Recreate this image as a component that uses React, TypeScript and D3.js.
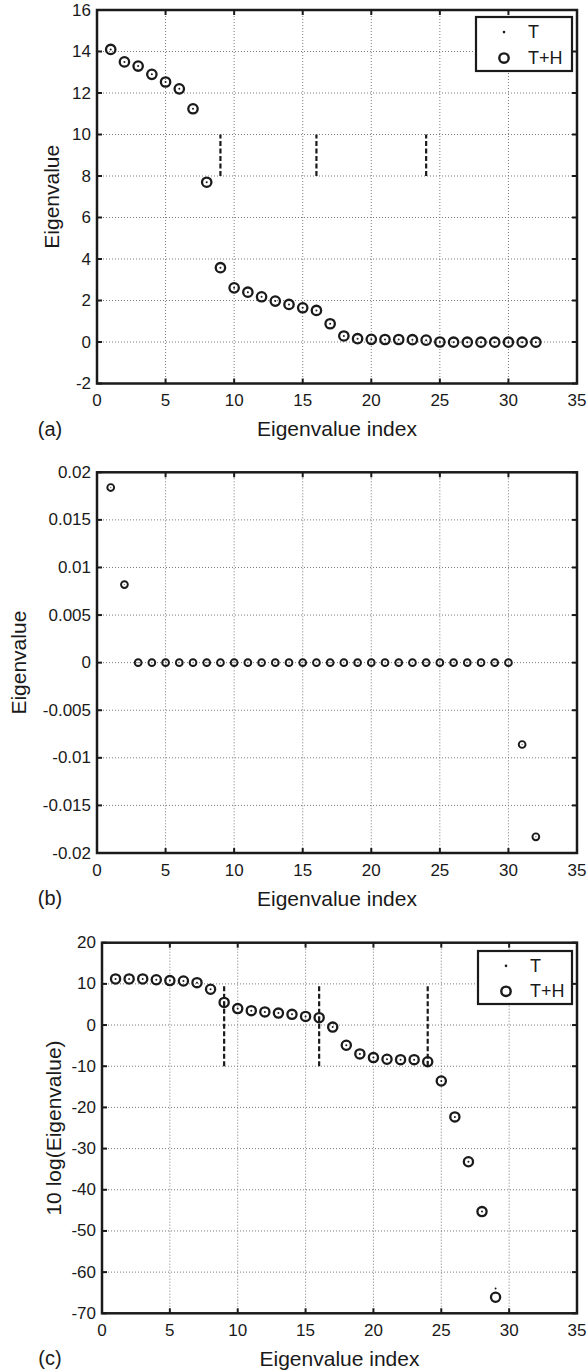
import React from 'react';
import * as d3 from 'd3';

// ---------- data ----------
const indexA = [1,2,3,4,5,6,7,8,9,10,11,12,13,14,15,16,17,18,19,20,21,22,23,24,25,26,27,28,29,30,31,32];
const eigA_TH = [14.1,13.5,13.3,12.9,12.53,12.2,11.24,7.7,3.58,2.61,2.4,2.18,1.97,1.81,1.65,1.52,0.88,0.29,0.16,0.13,0.12,0.12,0.11,0.09,0.0,-0.01,-0.01,-0.01,-0.01,-0.01,-0.01,-0.01];
const eigA_T = [14.1,13.5,13.3,12.9,12.53,12.2,11.24,7.7,3.58,2.61,2.4,2.18,1.97,1.81,1.65,1.52,0.88,0.29,0.16,0.13,0.12,0.12,0.11,0.09,0.0,-0.01,-0.01,-0.01,-0.01,-0.01,-0.01,-0.01];

const indexB = [1,2,3,4,5,6,7,8,9,10,11,12,13,14,15,16,17,18,19,20,21,22,23,24,25,26,27,28,29,30,31,32];
const eigB = [0.0184,0.0082,0,0,0,0,0,0,0,0,0,0,0,0,0,0,0,0,0,0,0,0,0,0,0,0,0,0,0,0,-0.0086,-0.0183];

const indexC = [1,2,3,4,5,6,7,8,9,10,11,12,13,14,15,16,17,18,19,20,21,22,23,24,25,26,27,28,29];
const logC_TH = [11.2,11.2,11.2,11.0,10.8,10.7,10.3,8.7,5.5,4.0,3.5,3.2,2.9,2.6,2.1,1.8,-0.5,-4.9,-7.0,-7.9,-8.3,-8.4,-8.4,-8.9,-13.6,-22.3,-33.2,-45.3,-66.1];
const logC_T = [11.2,11.2,11.2,11.0,10.8,10.7,10.3,8.7,5.5,4.0,3.5,3.2,2.9,2.6,2.1,1.8,-0.5,-4.9,-7.0,-7.9,-8.3,-8.4,-8.4,-8.9,-13.6,-22.3,-33.2,-45.3,-64.0];

const splitIndices = [9, 16, 24];
const splitSpanA = [8, 10];
const splitSpanC = [-10, 10];

const xTicks = [0,5,10,15,20,25,30,35];
const yTicksA = [-2,0,2,4,6,8,10,12,14,16];
const yTicksB = [-0.02,-0.015,-0.01,-0.005,0,0.005,0.01,0.015,0.02];
const yTickLabelsB = ['-0.02','-0.015','-0.01','-0.005','0','0.005','0.01','0.015','0.02'];
const yTicksC = [-70,-60,-50,-40,-30,-20,-10,0,10,20];

const legendLabels = ['T', 'T+H'];
const xLabel = 'Eigenvalue index';

const FONT = '"Liberation Sans", Arial, Helvetica, sans-serif';
const INK = '#1a1a1a';
const TICK_FS = 17;
const LABEL_FS = 21;

type PanelProps = {
  left: number; right: number; top: number; bottom: number;
  yDomain: [number, number];
  yTicks: number[]; yTickLabels?: string[];
  yLabel: string; yLabelX: number;
  letter: string;
  children: (x: d3.ScaleLinear<number, number>, y: d3.ScaleLinear<number, number>) => React.ReactNode;
};

function Panel(p: PanelProps) {
  const x = d3.scaleLinear().domain([0, 35]).range([p.left, p.right]);
  const y = d3.scaleLinear().domain(p.yDomain).range([p.bottom, p.top]);
  const tl = 5;
  return (
    <g>
      {xTicks.slice(1, -1).map((t) => (
        <line key={'gx' + t} x1={x(t)} x2={x(t)} y1={p.top} y2={p.bottom}
          stroke="#7a7a7a" strokeWidth={1} strokeDasharray="1,2" />
      ))}
      {p.yTicks.slice(1, -1).map((t) => (
        <line key={'gy' + t} x1={p.left} x2={p.right} y1={y(t)} y2={y(t)}
          stroke="#7a7a7a" strokeWidth={1} strokeDasharray="1,2" />
      ))}
      {xTicks.map((t) => (
        <g key={'tx' + t}>
          <line x1={x(t)} x2={x(t)} y1={p.bottom} y2={p.bottom - tl} stroke={INK} strokeWidth={2} />
          <line x1={x(t)} x2={x(t)} y1={p.top} y2={p.top + tl} stroke={INK} strokeWidth={2} />
          <text x={x(t)} y={p.bottom + 17} textAnchor="middle" dominantBaseline="central"
            fontFamily={FONT} fontSize={TICK_FS} fill={INK}>{t}</text>
        </g>
      ))}
      {p.yTicks.map((t, i) => (
        <g key={'ty' + t}>
          <line x1={p.left} x2={p.left + tl} y1={y(t)} y2={y(t)} stroke={INK} strokeWidth={2} />
          <line x1={p.right} x2={p.right - tl} y1={y(t)} y2={y(t)} stroke={INK} strokeWidth={2} />
          <text x={p.left - 6} y={y(t)} textAnchor="end" dominantBaseline="central"
            fontFamily={FONT} fontSize={TICK_FS} fill={INK}>{p.yTickLabels ? p.yTickLabels[i] : t}</text>
        </g>
      ))}
      {p.children(x, y)}
      <rect x={p.left} y={p.top} width={p.right - p.left} height={p.bottom - p.top}
        fill="none" stroke={INK} strokeWidth={2.5} />
      <text x={(p.left + p.right) / 2} y={p.bottom + 45} textAnchor="middle" dominantBaseline="central"
        fontFamily={FONT} fontSize={LABEL_FS} fill={INK}>{xLabel}</text>
      <text x={50} y={p.bottom + 45} textAnchor="middle" dominantBaseline="central"
        fontFamily={FONT} fontSize={20} fill={INK}>{p.letter}</text>
      <text transform={`translate(${p.yLabelX},${(p.top + p.bottom) / 2}) rotate(-90)`} textAnchor="middle"
        dominantBaseline="central" fontFamily={FONT} fontSize={LABEL_FS} fill={INK}>{p.yLabel}</text>
    </g>
  );
}

function Legend({ x0, y0, x1, y1 }: { x0: number; y0: number; x1: number; y1: number }) {
  const h = y1 - y0;
  const r1 = y0 + h * 0.28;
  const r2 = y0 + h * 0.76;
  const mx = x0 + 28;
  return (
    <g>
      <rect x={x0} y={y0} width={x1 - x0} height={h} fill="#fff" stroke={INK} strokeWidth={2.2} />
      <circle cx={mx} cy={r1} r={1.3} fill={INK} />
      <circle cx={mx} cy={r2} r={4.7} fill="none" stroke={INK} strokeWidth={2.4} />
      <text x={x0 + 52} y={r1} dominantBaseline="central" fontFamily={FONT} fontSize={18} fill={INK}>{legendLabels[0]}</text>
      <text x={x0 + 52} y={r2} dominantBaseline="central" fontFamily={FONT} fontSize={18} fill={INK}>{legendLabels[1]}</text>
    </g>
  );
}

export default function App() {
  return (
    <svg width={588} height={1370} style={{ position: 'absolute', left: 0, top: 0, background: '#fff' }}>
      <rect width={588} height={1370} fill="#fff" />
      {/* (a) */}
      <Panel left={97} right={577} top={10} bottom={383.5} yDomain={[-2, 16]} yTicks={yTicksA}
        yLabel="Eigenvalue" yLabelX={51} letter="(a)">
        {(x, y) => (
          <g>
            {splitIndices.map((s) => (
              <line key={'s' + s} x1={x(s)} x2={x(s)} y1={y(splitSpanA[0])} y2={y(splitSpanA[1])}
                stroke={INK} strokeWidth={2.2} strokeDasharray="5,2.5" />
            ))}
            {indexA.map((k, i) => (
              <circle key={'c' + k} cx={x(k)} cy={y(eigA_TH[i])} r={4.7} fill="none" stroke={INK} strokeWidth={2.3} />
            ))}
            {indexA.map((k, i) => (
              <circle key={'d' + k} cx={x(k)} cy={y(eigA_T[i])} r={1.0} fill={INK} />
            ))}
            <Legend x0={476} y0={17} x1={572} y1={71} />
          </g>
        )}
      </Panel>
      {/* (b) */}
      <Panel left={97} right={577} top={472.3} bottom={853} yDomain={[-0.02, 0.02]} yTicks={yTicksB}
        yTickLabels={yTickLabelsB} yLabel="Eigenvalue" yLabelX={18} letter="(b)">
        {(x, y) => (
          <g>
            {indexB.map((k, i) => (
              <g key={'b' + k}>
                <circle cx={x(k)} cy={y(eigB[i])} r={3.4} fill="none" stroke={INK} strokeWidth={1.9} />
                <circle cx={x(k)} cy={y(eigB[i])} r={0.7} fill="#777" />
              </g>
            ))}
          </g>
        )}
      </Panel>
      {/* (c) */}
      <Panel left={102} right={577} top={942.7} bottom={1313.3} yDomain={[-70, 20]} yTicks={yTicksC}
        yLabel="10 log(Eigenvalue)" yLabelX={53} letter="(c)">
        {(x, y) => (
          <g>
            {splitIndices.map((s) => (
              <line key={'s' + s} x1={x(s)} x2={x(s)} y1={y(splitSpanC[0])} y2={y(splitSpanC[1])}
                stroke={INK} strokeWidth={2.2} strokeDasharray="5,2.5" />
            ))}
            {indexC.map((k, i) => (
              <circle key={'c' + k} cx={x(k)} cy={y(logC_TH[i])} r={4.6} fill="none" stroke={INK} strokeWidth={2.3} />
            ))}
            {indexC.map((k, i) => (
              <circle key={'d' + k} cx={x(k)} cy={y(logC_T[i])} r={1.0} fill={INK} />
            ))}
            <Legend x0={478} y0={951} x1={572} y1={1004} />
          </g>
        )}
      </Panel>
    </svg>
  );
}
